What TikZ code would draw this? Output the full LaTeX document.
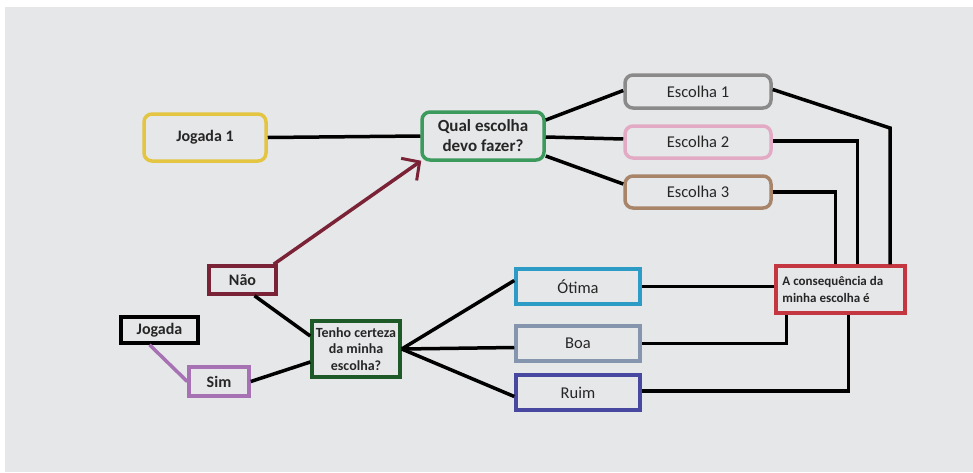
\documentclass[tikz,border=0pt]{standalone}
\usepackage{fontspec}
\setmainfont{Carlito}
\usetikzlibrary{arrows.meta}
\definecolor{bgc}{HTML}{E6E7E9}
\definecolor{cyel}{HTML}{E3C542}
\definecolor{cgrn}{HTML}{3C9A5C}
\definecolor{cgry}{HTML}{8A8A8A}
\definecolor{cpnk}{HTML}{E2AAC4}
\definecolor{cbrn}{HTML}{A88468}
\definecolor{cred}{HTML}{C43640}
\definecolor{ccyn}{HTML}{2C9CC6}
\definecolor{cblg}{HTML}{8595AE}
\definecolor{cnav}{HTML}{4848A0}
\definecolor{cdgr}{HTML}{1E5A28}
\definecolor{cmar}{HTML}{7A2236}
\definecolor{cpur}{HTML}{A772B4}
\begin{document}
\begin{tikzpicture}[x=1pt,y=-1pt,
  box/.style={draw, line width=3.5pt, fill=bgc, inner sep=0pt, align=center, text=black!85, font=\fontsize{16.5}{19}\selectfont},
  rbox/.style={box, rounded corners=8pt},
  bbox/.style={box, font=\fontsize{16}{19}\selectfont\bfseries},
  conn/.style={line width=3.5pt, black},
]
\fill[white] (0,0) rectangle (973,472);
\fill[bgc] (5,7) rectangle (973,472);

% nodes
\node[rbox, draw=cyel, minimum width=122, minimum height=47, font=\fontsize{16}{19}\selectfont\bfseries] (j1) at (205,137.5) {Jogada 1};
\node[rbox, draw=cgrn, minimum width=122, minimum height=48, font=\fontsize{17}{20}\selectfont\bfseries] (q) at (483,136) {Qual escolha\\devo fazer?};
\node[rbox, draw=cgry, minimum width=146, minimum height=33] (e1) at (698,91.5) {Escolha 1};
\node[rbox, draw=cpnk, minimum width=146, minimum height=32] (e2) at (698,142) {Escolha 2};
\node[rbox, draw=cbrn, minimum width=146, minimum height=32] (e3) at (698,192) {Escolha 3};
\node[box, draw=cred, minimum width=129, minimum height=47] (c) at (840.5,289.5) {};
\node[anchor=west, align=left, inner sep=0pt, text=black!85, font=\fontsize{13}{16.5}\selectfont\bfseries] (ct) at ([xshift=8pt]c.west) {A consequência da\\minha escolha é};
\node[box, draw=ccyn, minimum width=124, minimum height=35] (ot) at (578,286.5) {Ótima};
\node[box, draw=cblg, minimum width=124, minimum height=35] (boa) at (578,343.5) {Boa};
\node[box, draw=cnav, minimum width=124, minimum height=35] (ru) at (578,392.5) {Ruim};
\node[box, draw=cdgr, minimum width=88, minimum height=56, font=\fontsize{14}{16.5}\selectfont\bfseries] (t) at (356,349) {Tenho certeza\\da minha\\escolha?};
\node[bbox, draw=cmar, minimum width=67, minimum height=28] (n) at (242.5,280) {Não};
\node[bbox, draw=black, minimum width=77, minimum height=26] (j) at (159.5,330) {Jogada};
\node[bbox, draw=cpur, minimum width=60, minimum height=29] (s) at (219,381.5) {Sim};

% connectors
\draw[conn] (j1.east) -- (q.west);
\draw[conn] ([yshift=16pt]q.east) -- ([yshift=1pt]e1.west);
\draw[conn] ([yshift=-1pt]q.east) -- ([yshift=3pt]e2.west);
\draw[conn] ([yshift=-20pt]q.east) -- ([yshift=8pt]e3.west);
\coordinate (k1) at (890,128);
\draw[conn] ([yshift=2pt]e1.east) -- (k1) -- (k1 |- c.north);
\draw[conn] ([yshift=1pt]e2.east) -| ([xshift=17pt]c.north);
\draw[conn] (e3.east) -| ([xshift=-5pt]c.north);
\draw[conn] (ot.east) -- (ot.east -| c.west);
\draw[conn] (boa.east) -| ([xshift=-54pt]c.south);
\draw[conn] ([yshift=1.5pt]ru.east) -| ([xshift=8pt]c.south);
\draw[conn] (t.east) -- ([yshift=6pt]ot.west);
\draw[conn] (t.east) -- ([yshift=-4pt]boa.west);
\draw[conn] (t.east) -- ([yshift=-4pt]ru.west);
\draw[conn] ([xshift=12pt]n.south) -- ([yshift=13pt]t.west);
\draw[conn] (s.east) -- ([yshift=-13pt]t.west);
\draw[line width=3.5pt, cpur] ([xshift=-10pt]j.south) -- (s.west);
\draw[line width=3.5pt, cmar, -{Straight Barb[length=13pt,width=27pt,line width=3pt]}] ([xshift=-4pt]n.north east) -- ([xshift=1pt,yshift=1pt]q.south west);
\end{tikzpicture}
\end{document}
